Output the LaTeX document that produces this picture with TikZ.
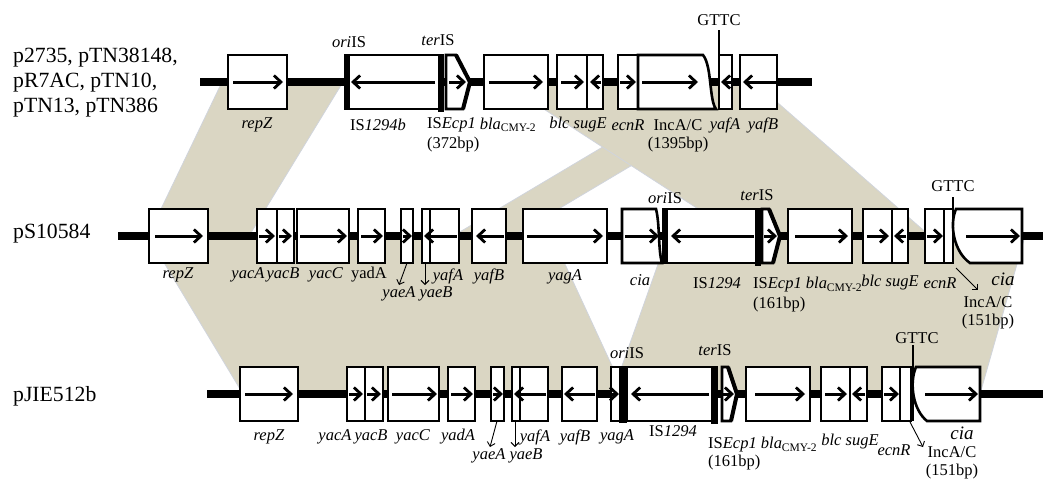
\documentclass[tikz,border=0pt]{standalone}
\usepackage{fontspec}
\setmainfont{Liberation Serif}
\usetikzlibrary{arrows.meta}
\definecolor{bandc}{RGB}{218,214,195}
\definecolor{banded}{RGB}{208,212,220}
\tikzset{
  genebox/.style={draw=black, line width=2.6pt, fill=white, line join=miter},
  backbone/.style={line width=8pt, black},
  garrow/.style={line width=3pt, -{Straight Barb[length=7pt,width=13pt,line width=2.8pt]}},
  sarrow/.style={line width=0.9pt, -{Straight Barb[length=4pt,width=8pt,line width=0.9pt]}},
  isbar/.style={fill=black, draw=none},
  band/.style={fill=bandc, draw=banded, line width=0.8pt},
  lab/.style={font=\fontsize{16.5}{19}\selectfont, inner sep=0pt},
  pname/.style={font=\fontsize{21.7}{25}\selectfont, inner sep=0pt, anchor=west, align=left},
  gttc/.style={line width=1.3pt},
}
\newcommand\gbx[3]{\draw[genebox] (#1,{#3-27}) rectangle (#2,{#3+27});}
\newcommand\gar[3]{\draw[garrow] (#1,#3) -- (#2,#3);}
\begin{document}
\begin{tikzpicture}[x=1pt,y=-1pt]
\useasboundingbox (0,0) rectangle (1051,480);
% ---------- bands ----------
\path[band] (222,82) -- (343,82) -- (249,236) -- (148,236) -- cycle;
\path[band] (712,82) -- (772,82) -- (513,236) -- (453,236) -- cycle;
\path[band] (502,82) -- (754,82) -- (930,236) -- (740,236) -- cycle;
\path[band] (148,236) -- (552,236) -- (625,394) -- (243,394) -- cycle;
\path[band] (668,236) -- (1025,236) -- (980,394) -- (612,394) -- cycle;
% ---------- names ----------
\node[pname] (n1) at (13,83) {p2735, pTN38148,\\pR7AC, pTN10,\\pTN13, pTN386};
\node[pname] (n2) at (13,234) {pS10584};
\node[pname] (n3) at (13,396) {pJIE512b};
% ================= ROW 1 (y=82) =================
\draw[backbone] (200,82) -- (812,82);
\gbx{228}{287}{82} \gar{233}{283}{82}
\gbx{348}{440}{82} \gar{435}{351}{82}
\fill[isbar] (344,54) rectangle (350,110);
\fill[isbar] (438,54) rectangle (444,112);
\draw[genebox] (446,55) -- (456,55) -- (470,82) -- (463,109) -- (446,109) -- cycle;
\draw[line width=4pt, line join=miter] (456,55) -- (470,82) -- (463,109);
\gar{449}{466}{82}
\gbx{484}{548}{82} \gar{489}{543}{82}
\gbx{557}{587}{82} \gar{561}{584}{82}
\gbx{587}{603}{82} \gar{601}{590}{82}
\gbx{618}{638}{82} \gar{620}{636}{82}
\draw[genebox] (638,55) -- (703,55) .. controls (712,66) and (709,100) .. (716,109) -- (638,109) -- cycle;
\gar{642}{698}{82}
\gbx{719}{732}{82} \gar{731}{721}{82}
\gbx{740}{777}{82} \gar{776}{743}{82}
\draw[gttc] (719,30) -- (719,109);
\node[lab] (g1) at (719,20) {GTTC};
\node[lab] (o1) at (349,42) {\textit{ori}IS};
\node[lab] (t1) at (438,40) {\textit{ter}IS};
\node[lab] at (257,125) {\textit{repZ}};
\node[lab] at (378,125) {IS\textit{1294b}};
\node[lab, anchor=west] at (427,125) {IS\textit{Ecp1}};
\node[lab, anchor=west] at (427,145) {(372bp)};
\node[lab] at (508,125) {\textit{bla}\textsubscript{CMY-2}};
\node[lab] at (578,125) {\textit{blc sugE}};
\node[lab] at (628,125) {\textit{ecnR}};
\node[lab] at (678,125) {IncA/C};
\node[lab] at (678,145) {(1395bp)};
\node[lab] at (725,125) {\textit{yafA}};
\node[lab] at (763,125) {\textit{yafB}};
% ================= ROW 2 (y=236) =================
\draw[backbone] (118,236) -- (1043,236);
\gbx{149}{208}{236} \gar{155}{203}{236}
\gbx{257}{277}{236} \gar{259}{275}{236}
\gbx{277}{294}{236} \gar{279}{292}{236}
\gbx{297}{349}{236} \gar{300}{347}{236}
\gbx{358}{385}{236} \gar{361}{383}{236}
\gbx{401}{413}{236} \gar{403}{412}{236}
\gbx{422}{430}{236}
\gbx{430}{459}{236} \gar{457}{424}{236}
\gbx{472}{506}{236} \gar{504}{476}{236}
\gbx{523}{607}{236} \gar{527}{603}{236}
\draw[genebox] (622,209) -- (656,209) .. controls (660,225) and (658,250) .. (662,263) -- (622,263) -- cycle;
\gar{625}{659}{236}
\gbx{667}{757}{236} \gar{754}{671}{236}
\fill[isbar] (662,208) rectangle (668,264);
\fill[isbar] (755,208) rectangle (761,266);
\draw[genebox] (762,209) -- (769,209) -- (780,236) -- (773,263) -- (762,263) -- cycle;
\draw[line width=4pt, line join=miter] (769,209) -- (780,236) -- (773,263);
\gar{764}{777}{236}
\gbx{788}{852}{236} \gar{795}{848}{236}
\gbx{863}{892}{236} \gar{867}{889}{236}
\gbx{892}{908}{236} \gar{906}{894}{236}
\gbx{925}{944}{236} \gar{927}{943}{236}
\gbx{944}{953}{236}
\draw[genebox] (956,209) .. controls (949,225) and (954,252) .. (970,263) -- (1022,263) -- (1022,209) -- cycle;
\gar{966}{1020}{236}
\draw[gttc] (953,197) -- (953,263);
\node[lab] (g2) at (953,186) {GTTC};
\node[lab] (o2) at (665,198) {\textit{ori}IS};
\node[lab] (t2) at (757,195) {\textit{ter}IS};
\node[lab] at (178,275) {\textit{repZ}};
\node[lab] at (248,275) {\textit{yacA}};
\node[lab] at (283,275) {\textit{yacB}};
\node[lab] at (326,275) {\textit{yacC}};
\node[lab] at (369,275) {yadA};
\node[lab] (yea2) at (399,294) {\textit{yaeA}};
\node[lab] (yeb2) at (436,294) {\textit{yaeB}};
\draw[sarrow] (407,263) -- (399,285);
\draw[sarrow] (425,263) -- (425,285);
\node[lab] at (448,276) {\textit{yafA}};
\node[lab] at (489,276) {\textit{yafB}};
\node[lab] at (565,277) {\textit{yagA}};
\node[lab] at (640,280) {\textit{cia}};
\node[lab] at (717,283) {IS\textit{1294}};
\node[lab, anchor=west] at (753,285) {IS\textit{Ecp1} \textit{bla}\textsubscript{CMY-2}};
\node[lab, anchor=west] at (753,305) {(161bp)};
\node[lab] at (890,283) {\textit{blc sugE}};
\node[lab] at (940,283) {\textit{ecnR}};
\draw[sarrow] (956,268) -- (978,290);
\node[lab] at (988,302) {IncA/C};
\node[lab] at (988,322) {(151bp)};
\node[lab, font=\fontsize{19}{21}\selectfont] at (1003,279) {\textit{cia}};
% ================= ROW 3 (y=394) =================
\draw[backbone] (207,394) -- (1043,394);
\gbx{240}{298}{394} \gar{245}{293}{394}
\gbx{347}{365}{394} \gar{349}{363}{394}
\gbx{365}{383}{394} \gar{367}{381}{394}
\gbx{388}{439}{394} \gar{392}{437}{394}
\gbx{448}{475}{394} \gar{451}{473}{394}
\gbx{491}{504}{394} \gar{493}{503}{394}
\gbx{512}{520}{394}
\gbx{520}{548}{394} \gar{546}{514}{394}
\gbx{562}{597}{394} \gar{595}{564}{394}
\gbx{611}{620}{394} \gar{612}{619}{394}
\gbx{627}{713}{394} \gar{709}{631}{394}
\fill[isbar] (619,366) rectangle (627,423);
\fill[isbar] (711,366) rectangle (718,424);
\draw[genebox] (722,367) -- (728,367) -- (737,394) -- (731,421) -- (722,421) -- cycle;
\draw[line width=4pt, line join=miter] (728,367) -- (737,394) -- (731,421);
\gar{723}{734}{394}
\gbx{746}{810}{394} \gar{755}{805}{394}
\gbx{821}{850}{394} \gar{825}{847}{394}
\gbx{850}{867}{394} \gar{865}{852}{394}
\gbx{882}{900}{394} \gar{884}{899}{394}
\gbx{900}{911}{394}
\draw[genebox] (916,367) .. controls (909,383) and (913,410) .. (927,421) -- (980,421) -- (980,367) -- cycle;
\gar{925}{978}{394}
\draw[gttc] (913,345) -- (913,421);
\node[lab] (g3) at (917,338) {GTTC};
\node[lab] (o3) at (627,353) {\textit{ori}IS};
\node[lab] (t3) at (715,350) {\textit{ter}IS};
\node[lab] at (269,437) {\textit{repZ}};
\node[lab] at (335,437) {\textit{yacA}};
\node[lab] at (371,437) {\textit{yacB}};
\node[lab] at (413,437) {\textit{yacC}};
\node[lab] at (458,437) {\textit{yadA}};
\node[lab] (yea3) at (489,456) {\textit{yaeA}};
\node[lab] (yeb3) at (526,456) {\textit{yaeB}};
\draw[sarrow] (497,421) -- (490,447);
\draw[sarrow] (515,421) -- (515,447);
\node[lab] at (535,437) {\textit{yafA}};
\node[lab] at (575,437) {\textit{yafB}};
\node[lab] at (617,437) {\textit{yagA}};
\node[lab] at (673,431) {IS\textit{1294}};
\node[lab, anchor=west] at (708,445) {IS\textit{Ecp1} \textit{bla}\textsubscript{CMY-2}};
\node[lab, anchor=west] at (708,463) {(161bp)};
\node[lab] at (850,442) {\textit{blc sugE}};
\node[lab] at (894,450) {\textit{ecnR}};
\draw[sarrow] (910,422) -- (923,447);
\node[lab] at (952,452) {IncA/C};
\node[lab] at (952,472) {(151bp)};
\node[lab, font=\fontsize{19}{21}\selectfont] at (962,433) {\textit{cia}};
\end{tikzpicture}
\end{document}
